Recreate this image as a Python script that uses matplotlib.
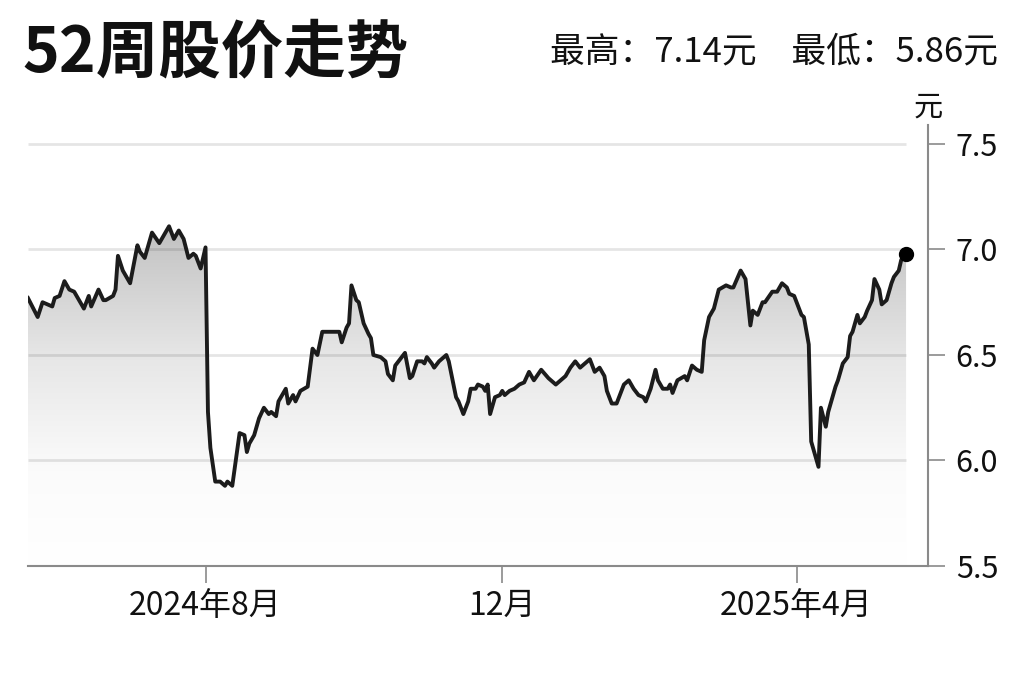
import numpy as np
import pandas as pd
import matplotlib
matplotlib.use('Agg')
import matplotlib.pyplot as plt
import matplotlib.dates as mdates
from matplotlib.colors import LinearSegmentedColormap

plt.rcParams['font.family'] = ['Noto Sans CJK SC', 'DejaVu Sans']

# 数据（从图上读出的收盘价），日期 = 起始日 + 天数
start = pd.Timestamp('2024-05-20')
day_offsets = [
    0, 4, 6, 8, 10, 11, 13, 15, 17, 19, 21, 23, 25, 26, 29, 31, 32, 35, 36, 37,
    39, 42, 45, 46, 48, 51, 54, 58, 60, 62, 64, 66, 68, 69, 71, 73, 74, 75, 77, 79,
    81, 82, 84, 87, 89, 90, 91, 93, 95, 97, 99, 100, 102, 103, 106, 107, 109, 110, 112, 115,
    116, 117, 119, 121, 128, 129, 131, 132, 133, 135, 136, 138, 140, 141, 142, 145, 147, 148, 150, 151,
    153, 155, 157, 158, 160, 162, 163, 164, 166, 167, 169, 172, 173, 176, 177, 179, 181, 182, 184, 185,
    187, 188, 189, 190, 192, 194, 195, 196, 198, 200, 202, 204, 206, 208, 211, 214, 217, 219, 221, 223,
    225, 227, 229, 231, 233, 235, 237, 238, 240, 242, 245, 247, 249, 251, 253, 254, 256, 258, 259, 261,
    263, 264, 265, 267, 270, 271, 273, 275, 277, 278, 280, 282, 284, 287, 289, 290, 293, 295, 297, 298,
    300, 302, 303, 306, 308, 310, 312, 313, 315, 316, 318, 319, 321, 322, 323, 325, 326, 328, 329, 331,
    332, 333, 335, 337, 338, 339, 341, 342, 344, 345, 347, 348, 350, 351, 353, 355, 356, 358, 359, 361,
]
prices = [
    6.77, 6.68, 6.75, 6.74, 6.73, 6.77, 6.78, 6.85, 6.81, 6.80, 6.76, 6.72, 6.78, 6.73, 6.81, 6.76, 6.76, 6.78, 6.81, 6.97,
    6.90, 6.84, 7.02, 6.99, 6.96, 7.08, 7.03, 7.11, 7.05, 7.09, 7.05, 6.96, 6.98, 6.97, 6.91, 7.01, 6.23, 6.06, 5.90, 5.90,
    5.88, 5.90, 5.88, 6.13, 6.12, 6.04, 6.08, 6.12, 6.20, 6.25, 6.22, 6.23, 6.21, 6.28, 6.34, 6.27, 6.31, 6.28, 6.33, 6.35,
    6.44, 6.53, 6.50, 6.61, 6.61, 6.56, 6.63, 6.65, 6.83, 6.76, 6.75, 6.65, 6.60, 6.58, 6.50, 6.49, 6.47, 6.41, 6.38, 6.45,
    6.48, 6.51, 6.39, 6.40, 6.47, 6.47, 6.46, 6.49, 6.46, 6.44, 6.47, 6.50, 6.47, 6.30, 6.28, 6.22, 6.28, 6.34, 6.34, 6.36,
    6.35, 6.33, 6.36, 6.22, 6.30, 6.31, 6.33, 6.31, 6.33, 6.34, 6.36, 6.37, 6.42, 6.38, 6.43, 6.39, 6.36, 6.38, 6.40, 6.44,
    6.47, 6.44, 6.46, 6.48, 6.42, 6.44, 6.40, 6.33, 6.27, 6.27, 6.36, 6.38, 6.34, 6.31, 6.30, 6.28, 6.34, 6.43, 6.38, 6.34,
    6.34, 6.36, 6.32, 6.38, 6.40, 6.38, 6.45, 6.43, 6.42, 6.57, 6.68, 6.72, 6.81, 6.83, 6.82, 6.82, 6.90, 6.86, 6.64, 6.71,
    6.69, 6.75, 6.75, 6.80, 6.80, 6.84, 6.82, 6.79, 6.78, 6.75, 6.69, 6.68, 6.55, 6.09, 6.05, 5.97, 6.25, 6.16, 6.23, 6.31,
    6.35, 6.38, 6.46, 6.49, 6.59, 6.61, 6.69, 6.65, 6.68, 6.71, 6.76, 6.86, 6.81, 6.74, 6.76, 6.84, 6.87, 6.90, 6.95, 6.98,
]
high, low = 7.14, 5.86
y_ticks = [5.5, 6.0, 6.5, 7.0, 7.5]
grid_levels = [6.0, 6.5, 7.0, 7.5]
x_tick_dates = ['2024-08-01', '2024-12-01', '2025-04-01']
x_tick_labels = ['2024年8月', '12月', '2025年4月']

dates = start + pd.to_timedelta(day_offsets, unit='D')
xn = mdates.date2num(dates)
x_end = mdates.date2num(start + pd.Timedelta(days=370))

fig = plt.figure(figsize=(10.24, 6.82), dpi=100)
ax = fig.add_axes([0.0273, 0.1701, 0.8789, 0.6466])

# 渐变填充（按价格高度固定渐变）
poly = ax.fill_between(xn, prices, 5.5, color='none', lw=0)
grad = np.linspace(0, 1, 256).reshape(-1, 1)
g_lo, g_hi = 5.5, 7.15
stops = [(5.5, '#ffffff'), (5.95, '#fbfbfb'), (6.5, '#e6e6e6'), (7.0, '#c8c8c8'), (7.15, '#bababa')]
cmap = LinearSegmentedColormap.from_list(
    'g', [((v - g_lo) / (g_hi - g_lo), c) for v, c in stops])
img = ax.imshow(grad, extent=[xn[0], xn[-1], g_lo, g_hi], origin='lower',
                cmap=cmap, aspect='auto', zorder=1, interpolation='bilinear')
img.set_clip_path(poly.get_paths()[0], transform=ax.transData)

ax.hlines(grid_levels, xn[0], xn[-1], color=(0, 0, 0, 0.1), lw=2, zorder=2)
ax.plot(xn, prices, color='#1c1c1c', lw=2.8, zorder=3)
ax.plot(xn[-1], prices[-1], 'o', ms=10, color='black', zorder=4)

ax.set_xlim(xn[0], x_end)
ax.set_ylim(5.5, 7.59)
ax.set_aspect('auto')

for s in ['top', 'left']:
    ax.spines[s].set_visible(False)
for s in ['right', 'bottom']:
    ax.spines[s].set_color('#8a8a8a')
    ax.spines[s].set_linewidth(1.5)

ax.yaxis.tick_right()
ax.set_yticks(y_ticks)
ax.set_yticklabels([f'{v:.1f}' for v in y_ticks])
ax.set_xticks(mdates.date2num(pd.to_datetime(x_tick_dates)))
ax.set_xticklabels(x_tick_labels)
ax.tick_params(axis='y', length=12, width=1.2, color='#8a8a8a', pad=8, labelsize=22, labelcolor='#111111')
ax.tick_params(axis='x', length=12, width=1.2, color='#8a8a8a', pad=5, labelsize=23, labelcolor='#111111')

fig.text(928 / 1024, 1 - 108 / 682, '元', ha='center', va='center', fontsize=21, color='#111111')
fig.text(22 / 1024, 1 - 53 / 682, '52周股价走势', fontsize=45, fontweight='bold',
         va='center', ha='left', color='#111111')
fig.text(998 / 1024, 1 - 52 / 682, f'最高：{high}元\u3000最低：{low}元', fontsize=25,
         va='center', ha='right', color='#111111')

fig.savefig('out.png', dpi=100, facecolor='white')
